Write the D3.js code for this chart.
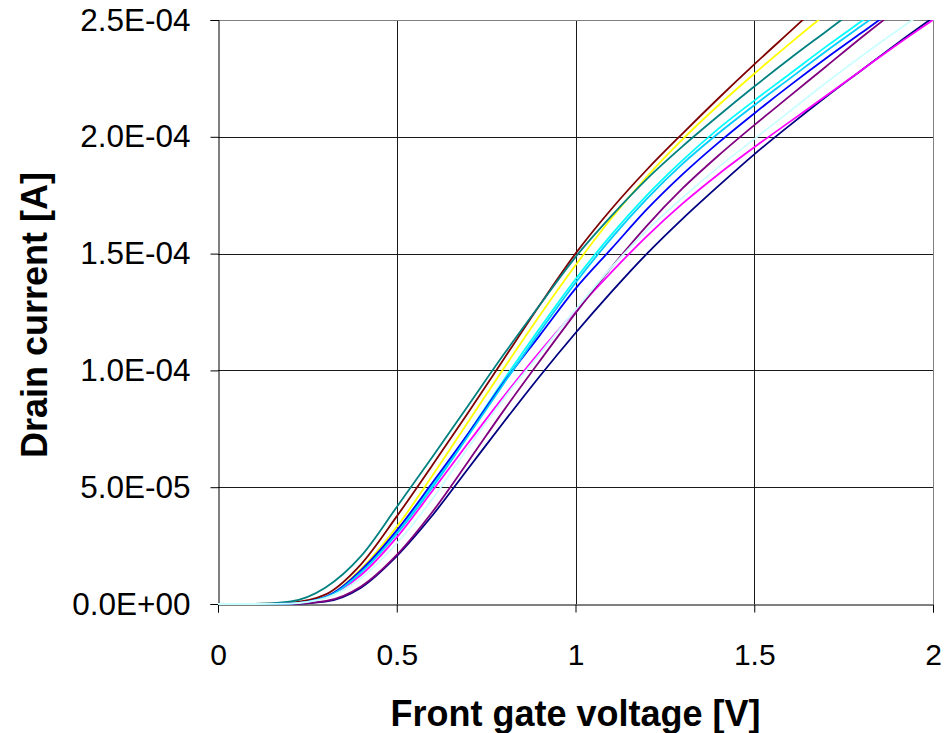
<!DOCTYPE html>
<html lang="en">
  <head>
    <meta charset="UTF-8" />
    <title>drain-current</title>
    <style>
      body { margin: 0; background: #fff; }
      text { font-family: "Liberation Sans", Arial, sans-serif; fill: #000; }
      .axis text { font-size: 30px; }
      .y.axis text { font-size: 31.5px; }
      .title { font-size: 36px; font-weight: bold; }
    </style>
  </head>
  <body>
    <svg width="944" height="733" id="svg"></svg>
    <script src="https://cdn.jsdelivr.net/npm/d3@7"></script>
    <script>
      // gate voltage [V], one point every 0.1 V
      const voltage = [0, 0.1, 0.2, 0.3, 0.4, 0.5, 0.6, 0.7, 0.8, 0.9, 1.0,
        1.1, 1.2, 1.3, 1.4, 1.5, 1.6, 1.7, 1.8, 1.9, 2.0];

      // drain current of each curve, in µA
      const navy = [0, 0, 0, 1, 7, 20.5, 38, 58, 78, 97.5, 116, 133.5, 150, 165, 179, 192.5, 205, 217, 228.5, 240, 251];
      const magenta = [0, 0, 0.2, 3, 12.4, 28.5, 48.5, 69, 89, 108, 125.5, 142, 157.5, 171.5, 184, 195.5, 206.5, 217.5, 228.5, 239.5, 250];
      const yellow = [0, 0, 0.3, 3, 15, 33, 55, 78, 101, 123.5, 145, 165, 183, 199, 213.5, 227, 240, 252.5, 264.5, 276, 287];
      const cyan = [0, 0, 0.2, 3, 14, 30.5, 51, 73, 96, 118, 139, 158, 175, 190, 203.5, 215.5, 227, 238.5, 249.5, 260.5, 271];
      const purple = [0, 0, 0, 1.2, 7.5, 21, 39.5, 61, 83, 104, 124.5, 144, 162, 178, 192, 205, 217.5, 230, 242.5, 254.5, 266];
      const maroon = [0, 0, 0.5, 4, 17, 37.5, 59.5, 82, 105, 128, 150, 169, 186, 201.5, 216.5, 231, 245, 259, 272.5, 285.5, 298];
      const teal = [0, 0, 1, 7, 20.5, 41.5, 63, 85, 107, 128, 148.5, 166, 182, 196, 209, 221.5, 233.5, 245, 256.5, 267.5, 278];
      const blue = [0, 0, 0.2, 3, 14.5, 31.5, 52, 73, 95, 115, 135, 152, 169, 184, 197.5, 210, 222, 233.5, 244.5, 255.5, 266];
      const skyBlue = [0, 0, 0.2, 2.8, 13.5, 30, 50, 72, 94.5, 116.5, 137.5, 156.5, 173.5, 188.5, 201.5, 213.5, 225, 236.5, 247.5, 258.5, 269];
      const lightCyan = [0, 0, 0.2, 2.5, 11, 26, 45, 67, 88, 107, 126, 144, 160, 174, 187, 199, 211, 223, 234.5, 245.5, 256];

      // excel order: first series is drawn first
      const series = [
        { values: navy, color: "#000080" },
        { values: magenta, color: "#FF00FF" },
        { values: yellow, color: "#FFFF00" },
        { values: cyan, color: "#00FFFF" },
        { values: purple, color: "#800080" },
        { values: maroon, color: "#800000" },
        { values: teal, color: "#008080" },
        { values: blue, color: "#0000FF" },
        { values: skyBlue, color: "#00CCFF" },
        { values: lightCyan, color: "#CCFFFF" },
      ];

      const xTicks = [0, 0.5, 1, 1.5, 2];
      const yTicks = [0, 50, 100, 150, 200, 250];

      const svg = d3.select("#svg");
      const margin = { left: 218, right: 933, top: 20, bottom: 604 };

      const x = d3.scaleLinear().domain([0, 2]).range([margin.left, margin.right]);
      const y = d3.scaleLinear().domain([0, 250]).range([margin.bottom, margin.top]);

      // 5.0E-05 style labels
      function sci(uA) {
        const v = uA * 1e-6;
        if (v === 0) return "0.0E+00";
        const e = Math.floor(Math.log10(v) + 1e-9);
        const m = v / Math.pow(10, e);
        const sign = e < 0 ? "-" : "+";
        return m.toFixed(1) + "E" + sign + String(Math.abs(e)).padStart(2, "0");
      }

      // grid
      svg.append("g")
        .selectAll("line")
        .data(yTicks.filter((d) => d > 0 && d < 250))
        .join("line")
        .attr("x1", margin.left).attr("x2", margin.right)
        .attr("y1", (d) => Math.round(y(d)) + 0.5)
        .attr("y2", (d) => Math.round(y(d)) + 0.5)
        .attr("stroke", "#1a1a1a");
      svg.append("g")
        .selectAll("line")
        .data(xTicks.filter((d) => d > 0 && d < 2))
        .join("line")
        .attr("y1", margin.top).attr("y2", margin.bottom)
        .attr("x1", (d) => Math.round(x(d)) + 0.5)
        .attr("x2", (d) => Math.round(x(d)) + 0.5)
        .attr("stroke", "#1a1a1a");

      // plot border (top and right are gray)
      svg.append("path")
        .attr("d", `M${margin.left},${margin.top + 0.5}H${margin.right + 0.5}V${margin.bottom}`)
        .attr("fill", "none")
        .attr("stroke", "#808080");

      // axes
      svg.append("g")
        .attr("class", "y axis")
        .attr("transform", `translate(${margin.left + 0.5},0)`)
        .call(d3.axisLeft(y).tickValues(yTicks).tickFormat(sci).tickSize(8).tickPadding(20));
      svg.append("g")
        .attr("class", "x axis")
        .attr("transform", `translate(0,${margin.bottom + 0.5})`)
        .call(d3.axisBottom(x).tickValues(xTicks).tickFormat(d3.format("")).tickSize(8).tickPadding(31));
      svg.selectAll(".axis path, .axis line").attr("stroke", "#000");
      svg.selectAll(".axis text").attr("fill", "#000");
      svg.selectAll(".axis").attr("font-family", null).attr("font-size", null);

      // curves
      svg.append("clipPath")
        .attr("id", "plot")
        .append("rect")
        .attr("x", margin.left).attr("y", margin.top)
        .attr("width", margin.right - margin.left)
        .attr("height", margin.bottom - margin.top + 2);

      const line = d3.line()
        .x((d, i) => x(voltage[i]))
        .y((d) => y(d))
        .curve(d3.curveMonotoneX);

      svg.append("g")
        .attr("clip-path", "url(#plot)")
        .selectAll("path")
        .data(series)
        .join("path")
        .attr("d", (d) => line(d.values))
        .attr("fill", "none")
        .attr("stroke", (d) => d.color)
        .attr("stroke-width", 1.8);

      // titles
      svg.append("text")
        .attr("class", "title")
        .attr("x", (margin.left + margin.right) / 2)
        .attr("y", 726)
        .attr("text-anchor", "middle")
        .text("Front gate voltage [V]");
      svg.append("text")
        .attr("class", "title")
        .attr("transform", `translate(47,${(margin.top + margin.bottom) / 2 + 3}) rotate(-90)`)
        .attr("text-anchor", "middle")
        .text("Drain current [A]");
    </script>
  </body>
</html>
